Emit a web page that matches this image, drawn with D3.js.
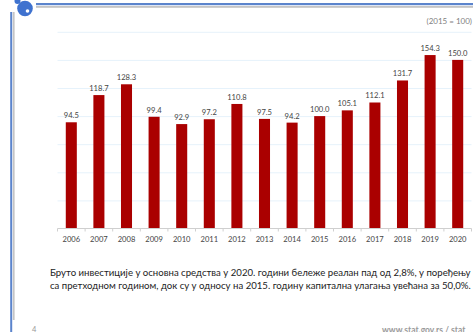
<!DOCTYPE html>
<html>
<head>
<meta charset="utf-8">
<script src="https://cdn.jsdelivr.net/npm/d3@7/dist/d3.min.js"></script>
<style>
html,body{margin:0;padding:0;background:#fff;overflow:hidden}
svg{display:block;font-family:Lato,"Noto Sans",sans-serif}
</style>
</head>
<body>
<svg id="chart" width="473" height="332"></svg>
<script>
const years = ["2006","2007","2008","2009","2010","2011","2012","2013","2014","2015","2016","2017","2018","2019","2020"];
const indexValues = [94.5,118.7,128.3,99.4,92.9,97.2,110.8,97.5,94.2,100.0,105.1,112.1,131.7,154.3,150.0];
const gridValues = [25,50,75,100,125,150,175];
const baseNote = "(2015 = 100)";
const captionLines = [
  "Бруто инвестиције у основна средства у 2020. години бележе реалан пад од 2,8%, у поређењу",
  "са претходном годином, док су у односу на 2015. годину капитална улагања увећана за  50,0%."
];
const pageNumber = "4";
const footerUrl = "www.stat.gov.rs / stat";

const svg = d3.select("#chart");
const x = d3.scaleBand().domain(years).range([57.5,471.5]).paddingInner(0.6).paddingOuter(0.3);
const y = d3.scaleLinear().domain([0,175]).range([228.5,31.8]);

// Slide frame
svg.append("rect").attr("x",36).attr("y",3).attr("width",437).attr("height",2.2).attr("fill","#5b84cc");
svg.append("rect").attr("x",36).attr("y",6).attr("width",437).attr("height",1.8).attr("fill","#c4c4c4");
svg.append("rect").attr("x",10.2).attr("y",12).attr("width",2).attr("height",320).attr("fill","#5b84cc");
svg.append("rect").attr("x",12.8).attr("y",12).attr("width",1.8).attr("height",308).attr("fill","#c4c4c4");
svg.append("circle").attr("cx",25).attr("cy",8.5).attr("r",7.8).attr("fill","#3f72cf");
svg.append("circle").attr("cx",17.5).attr("cy",1).attr("r",3).attr("fill","#3f72cf");
svg.append("circle").attr("cx",27.5).attr("cy",11).attr("r",1.8).attr("fill","#fff");

// Gridlines
svg.append("g").selectAll("line").data(gridValues).join("line")
  .attr("x1",57.5).attr("x2",471.5)
  .attr("y1",d=>y(d)+0.5).attr("y2",d=>y(d)+0.5)
  .attr("stroke","#e6f2fb").attr("stroke-width",1);

// Bars
svg.append("g").selectAll("rect").data(indexValues).join("rect")
  .attr("x",(d,i)=>x(years[i])).attr("width",x.bandwidth())
  .attr("y",d=>y(d)).attr("height",d=>y(0)-y(d))
  .attr("fill","#aa0000");

// Category axis
const axis = svg.append("g").attr("transform",`translate(0,${y(0)})`);
axis.append("line").attr("x1",57.5).attr("x2",471.5).attr("stroke","#cfcfcf");
const step = x.step();
axis.selectAll("line.tick").data(d3.range(years.length+1)).join("line").attr("class","tick")
  .attr("x1",i=>57.5+i*step).attr("x2",i=>57.5+i*step)
  .attr("y1",0).attr("y2",3).attr("stroke","#cfcfcf");
axis.selectAll("text").data(years).join("text")
  .attr("x",d=>x(d)+x.bandwidth()/2).attr("y",13.2)
  .attr("text-anchor","middle").attr("font-size",7.6).attr("fill","#444").text(d=>d);

// Value labels
svg.append("g").selectAll("text").data(indexValues).join("text")
  .attr("x",(d,i)=>x(years[i])+x.bandwidth()/2).attr("y",d=>y(d)-4)
  .attr("text-anchor","middle").attr("font-size",7.6).attr("fill","#444")
  .text(d=>d.toFixed(1));

svg.append("text").attr("x",472).attr("y",23.5).attr("text-anchor","end")
  .attr("font-size",8).attr("fill","#7f7f7f").text(baseNote);

// Caption and footer
svg.append("g").selectAll("text").data(captionLines).join("text")
  .attr("x",50).attr("y",(d,i)=>276+i*13)
  .attr("font-size",9.6).attr("fill","#222").text(d=>d);
svg.append("text").attr("x",32).attr("y",331.5).attr("font-size",7.5).attr("fill","#999").text(pageNumber);
svg.append("text").attr("x",382).attr("y",333).attr("font-size",8.5).attr("font-weight",700).attr("fill","#999").text(footerUrl);
</script>
</body>
</html>
